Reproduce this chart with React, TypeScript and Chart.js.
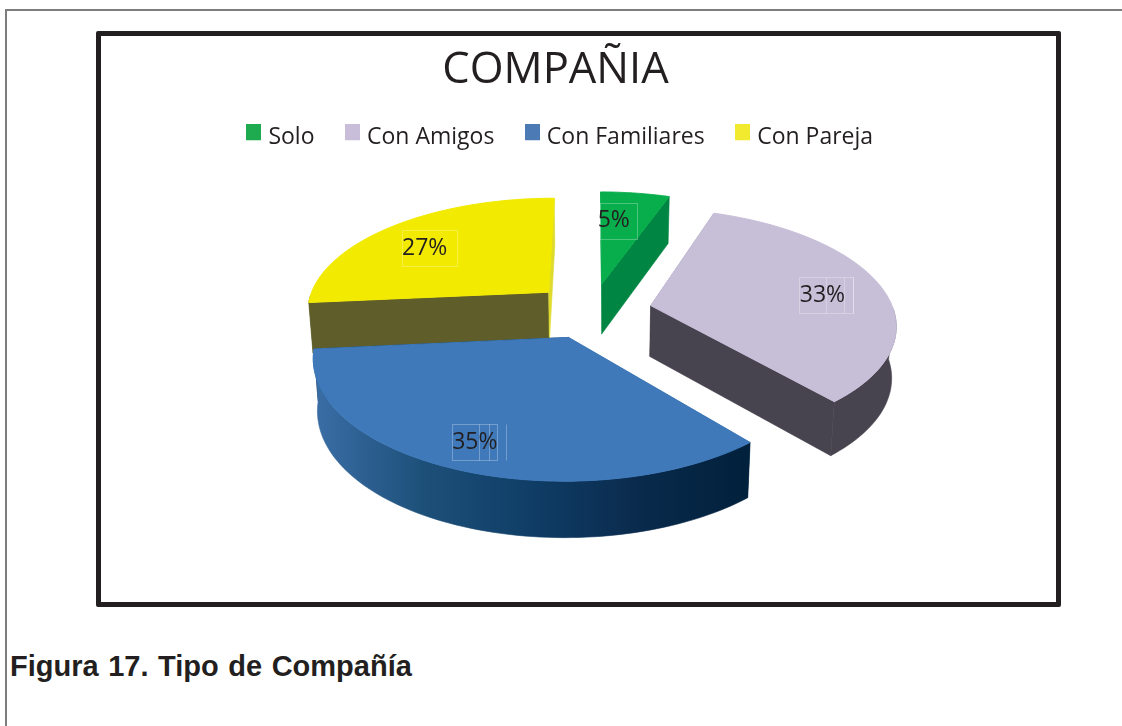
import React, { useEffect, useRef } from "react";
import { Chart, registerables } from "chart.js";

Chart.register(...registerables);

const chartTitle = "COMPAÑIA";
const categories = ["Solo", "Con Amigos", "Con Familiares", "Con Pareja"];
const shares = [5.4, 33.4, 34.7, 26.5];
const topColors = ["#08ad4c", "#c7bed8", "#3f79ba", "#f2ea00"];
const legendColors = ["#1eab4f", "#c9bed9", "#4b7ab5", "#f2ea2e"];
const startFaceColors = ["#08ad4c", "#47434f", "#1d4f7c", "#5f5e2b"];
const endFaceColors = ["#008542", "#47434f", "#00213d", "#dedb2e"];
const wallStops: string[][] = [
  ["#008542", "#008542"],
  ["#47434f", "#47434f"],
  ["#3b6ea6", "#1d5079", "#0f3d66", "#0a2a4c", "#00203b"],
  ["#5f5e2b", "#5f5e2b"],
];
const caption = "Figura 17. Tipo de Compañía";

const FONT = "'Open Sans', sans-serif";
const INK = "#231f20";
const EXPLODE = 60;
const RADIUS = 243;
const TILT = 0.466;
const PERSPECTIVE = 0.15;
const DEPTH = 51;
const BASE_SHRINK = 0.985;
const DRAW_ORDER = [0, 3, 1, 2];
const LABEL_FRACTION = [0.69, 0.73, 0.8, 0.72];
const LABEL_NUDGE = [[-12, 2], [3, 4], [-5, 3], [-9, 5]];
const LABEL_BOX_LEFT = [-14, -23, -23, -23];
const LABEL_BOX_WIDTH = [37, 54, 45, 55];
const LABEL_INNER = [[], [4, 22, 31], [4, 14, 31], []] as number[][];
const TITLE_SHIFT = { x: -36.5, y: 3 };
const LEGEND_SHIFT = { x: -30, y: -3 };

function legendSwatch(color: string) {
  const c = document.createElement("canvas");
  c.width = 15;
  c.height = 27;
  const g = c.getContext("2d")!;
  g.fillStyle = color;
  g.fillRect(0, 0, 15, 16);
  return c;
}

const moveBox = (box: any, d: { x: number; y: number }) => {
  box.left += d.x;
  box.right += d.x;
  box.top += d.y;
  box.bottom += d.y;
};

const pie3d = {
  id: "pie3d",
  afterLayout(chart: any) {
    moveBox(chart.titleBlock, TITLE_SHIFT);
    moveBox(chart.legend, LEGEND_SHIFT);
  },
  beforeDatasetsDraw(chart: any) {
    const ctx: CanvasRenderingContext2D = chart.ctx;
    const arcs = chart.getDatasetMeta(0).data;
    DRAW_ORDER.forEach((i) => {
      const arc = arcs[i];
      const { x: cx, y: cy, startAngle, endAngle, outerRadius: R } = arc;
      const mid = (startAngle + endAngle) / 2;
      const off = EXPLODE / R;
      const ax = off * Math.cos(mid);
      const ay = off * Math.sin(mid);
      const project = (mx: number, my: number, base: boolean) => {
        const s = 1 / (1 - PERSPECTIVE * my);
        const sx = cx + R * mx * s * (base ? BASE_SHRINK : 1);
        const sy = cy + R * TILT * my * s + (base ? DEPTH * Math.sqrt(s) : 0);
        return [sx, sy];
      };
      const rim: { p: number[]; front: boolean }[] = [];
      const steps = 80;
      for (let k = 0; k <= steps; k++) {
        const a = startAngle + ((endAngle - startAngle) * k) / steps;
        rim.push({ p: [ax + Math.cos(a), ay + Math.sin(a)], front: Math.sin(a) >= 0.02 });
      }
      const poly = (pts: number[][], fill: any, stroke: number) => {
        ctx.beginPath();
        pts.forEach((p, n) => (n ? ctx.lineTo(p[0], p[1]) : ctx.moveTo(p[0], p[1])));
        ctx.closePath();
        ctx.fillStyle = fill;
        ctx.fill();
        if (stroke > 0) {
          ctx.strokeStyle = fill;
          ctx.lineWidth = stroke;
          ctx.stroke();
        }
      };
      const top = rim.map((r) => project(r.p[0], r.p[1], false));
      const frontRim = rim.filter((r) => r.front);
      const apexT = project(ax, ay, false);
      const apexB = project(ax, ay, true);
      const xs = top.map((p) => p[0]);
      const g = ctx.createLinearGradient(Math.min(...xs), 0, Math.max(...xs), 0);
      wallStops[i].forEach((c, n) => g.addColorStop(n / (wallStops[i].length - 1), c));
      const startBase = project(rim[0].p[0], rim[0].p[1], true);
      const endBase = project(rim[steps].p[0], rim[steps].p[1], true);
      poly([apexT, top[0], startBase, apexB], startFaceColors[i], 0);
      poly([apexT, top[steps], endBase, apexB], endFaceColors[i], 0.6);
      if (frontRim.length > 1) {
        const wallTop = frontRim.map((r) => project(r.p[0], r.p[1], false));
        const wallBase = frontRim.map((r) => project(r.p[0], r.p[1], true));
        poly([...wallTop, ...wallBase.reverse()], g, 0.6);
      }
      poly([apexT, ...top], arc.options.backgroundColor, 1);
    });
    arcs.forEach((arc: any, i: number) => {
      const { x: cx, y: cy, startAngle, endAngle, outerRadius: R } = arc;
      const mid = (startAngle + endAngle) / 2;
      const rr = EXPLODE / R + LABEL_FRACTION[i];
      const mx = rr * Math.cos(mid);
      const my = rr * Math.sin(mid);
      const s = 1 / (1 - PERSPECTIVE * my);
      const lx = cx + R * mx * s + LABEL_NUDGE[i][0];
      const ly = cy + R * TILT * my * s + LABEL_NUDGE[i][1];
      ctx.save();
      ctx.strokeStyle = "rgba(255,255,255,0.28)";
      ctx.lineWidth = 1;
      const left = Math.round(lx + LABEL_BOX_LEFT[i]) + 0.5;
      const t = Math.round(ly - 18) + 0.5;
      ctx.strokeRect(left, t, LABEL_BOX_WIDTH[i], 36);
      LABEL_INNER[i].forEach((d) => {
        ctx.beginPath();
        ctx.moveTo(Math.round(lx + d) + 0.5, t);
        ctx.lineTo(Math.round(lx + d) + 0.5, t + 36);
        ctx.stroke();
      });
      ctx.fillStyle = INK;
      ctx.font = `23px ${FONT}`;
      ctx.textAlign = "center";
      ctx.textBaseline = "middle";
      ctx.fillText(`${Math.round(shares[i])}%`, lx, ly);
      ctx.restore();
    });
    return false;
  },
};

export default function App() {
  const ref = useRef<HTMLCanvasElement>(null);
  useEffect(() => {
    const chart = new Chart(ref.current!, {
      type: "pie",
      data: {
        labels: categories,
        datasets: [
          {
            data: shares,
            backgroundColor: topColors,
            borderWidth: 0,
            offset: EXPLODE,
            radius: RADIUS,
          } as any,
        ],
      },
      options: {
        responsive: false,
        animation: false,
        events: [],
        layout: { padding: { left: 70, right: 0, top: 6, bottom: 143 } },
        plugins: {
          tooltip: { enabled: false },
          title: {
            display: true,
            text: chartTitle,
            color: INK,
            font: { family: FONT, size: 43.5, weight: "normal" },
            padding: { top: 0, bottom: 0 },
          },
          legend: {
            position: "top",
            labels: {
              color: INK,
              font: { family: FONT, size: 23 },
              usePointStyle: true,
              pointStyleWidth: 6,
              boxHeight: 16,
              padding: 35,
              generateLabels: () =>
                categories.map((text, index) => ({
                  text,
                  index,
                  fontColor: INK,
                  fillStyle: legendColors[index],
                  strokeStyle: legendColors[index],
                  lineWidth: 0,
                  hidden: false,
                  pointStyle: legendSwatch(legendColors[index]),
                })) as any,
            },
          },
        },
      } as any,
      plugins: [pie3d as any],
    });
    return () => chart.destroy();
  }, []);

  return (
    <div style={{ position: "fixed", left: 0, top: 0, width: 1122, height: 726, overflow: "hidden", background: "#fff" }}>
      <div style={{ position: "absolute", left: 5, top: 9, width: 1200, height: 800, borderLeft: "2px solid #7d7d7d", borderTop: "2px solid #7d7d7d" }} />
      <div style={{ position: "absolute", left: 96, top: 31, width: 955, height: 566, border: "5px solid #231f20", borderRadius: 2 }} />
      <canvas ref={ref} width={912} height={566} style={{ position: "absolute", left: 101, top: 36, display: "block" }} />
      <div style={{ position: "absolute", left: 10, top: 650, fontFamily: "'Liberation Sans', Arial, sans-serif", fontWeight: 700, fontSize: 29, color: "#231f20", whiteSpace: "nowrap", wordSpacing: 1.5 }}>
        {caption}
      </div>
    </div>
  );
}
